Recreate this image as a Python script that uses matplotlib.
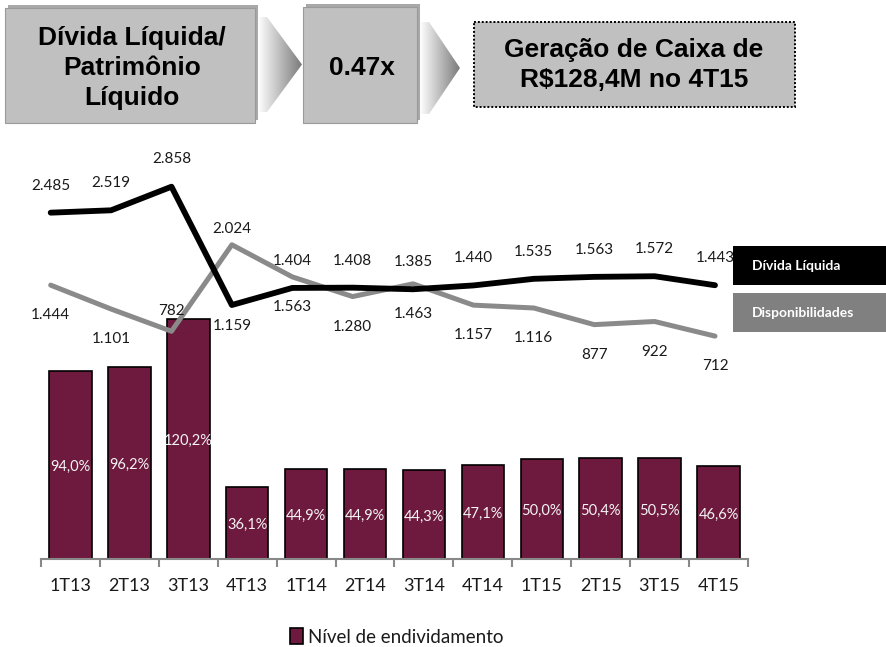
import matplotlib
matplotlib.use("Agg")
import matplotlib.pyplot as plt
import numpy as np
from matplotlib.patches import Rectangle, Polygon, Patch
from matplotlib.colors import LinearSegmentedColormap

# ---------------- data ----------------
categories = ["1T13", "2T13", "3T13", "4T13", "1T14", "2T14", "3T14", "4T14",
              "1T15", "2T15", "3T15", "4T15"]
nivel_endividamento = [94.0, 96.2, 120.2, 36.1, 44.9, 44.9, 44.3, 47.1, 50.0, 50.4, 50.5, 46.6]
divida_liquida = [2485, 2519, 2858, 1159, 1404, 1408, 1385, 1440, 1535, 1563, 1572, 1443]
disponibilidades = [1444, 1101, 782, 2024, 1563, 1280, 1463, 1157, 1116, 877, 922, 712]

header_texts = ["Dívida Líquida/\nPatrimônio\nLíquido", "0.47x", "Geração de Caixa de\nR$128,4M no 4T15"]
bar_legend = "Nível de endividamento"
line_legend = ["Dívida Líquida", "Disponibilidades"]

# label placement (pixel offsets from the point)
div_offsets = [-27, -27, -28, 21, -27, -27, -27, -27, -27, -27, -27, -27]
disp_offsets = [30, 30, -20, -16, 30, 30, 30, 30, 30, 30, 30, 30]

def fmt_thousands(v):
    return f"{v:,}".replace(",", ".")

def fmt_pct(v):
    return f"{v:.1f}%".replace(".", ",")

W, H = 887, 647
plt.rcParams['font.family'] = ['Lato', 'DejaVu Sans']
fig = plt.figure(figsize=(W / 100, H / 100), dpi=100)

# ---------- overlay axes in pixel coordinates (header, side legend) ----------
ov = fig.add_axes([0, 0, 1, 1], zorder=0)
ov.set_xlim(0, W)
ov.set_ylim(H, 0)
ov.axis("off")

BOX_GRAY = "#C0C0C0"
hfont = dict(family=["Liberation Sans", "DejaVu Sans"], fontweight="bold", fontsize=19,
             color="black", ha="center", va="center", linespacing=1.3)

# box 1
ov.add_patch(Rectangle((8, 5), 250, 115, facecolor="#A8A8A8", edgecolor="none", zorder=1))
ov.add_patch(Rectangle((5, 8), 250, 115, facecolor=BOX_GRAY, edgecolor="#9A9A9A", lw=0.8, zorder=2))
ov.text(132, 68, header_texts[0], zorder=3, **hfont)
# box 2
ov.add_patch(Rectangle((306, 4), 114, 116, facecolor="#A8A8A8", edgecolor="none", zorder=1))
ov.add_patch(Rectangle((303, 7), 114, 116, facecolor=BOX_GRAY, edgecolor="#9A9A9A", lw=0.8, zorder=2))
ov.text(362, 68, header_texts[1], zorder=3, **hfont)
# box 3 (dotted)
ov.add_patch(Rectangle((474, 22), 321, 85, facecolor=BOX_GRAY, edgecolor="black",
                       lw=1.4, linestyle=(0, (1, 1)), zorder=2))
ov.text(634, 65, header_texts[2], zorder=3, **hfont)

# chevrons with gradient
cmap = LinearSegmentedColormap.from_list("chev", ["#FFFFFF", "#7A7A7A"])
grad = np.linspace(0, 1, 256).reshape(1, -1)
for (x0, x1, tip, ytop, ybot) in [(258, 267, 302, 17, 112), (420, 429, 460, 22, 114)]:
    ymid = (ytop + ybot) / 2
    poly = Polygon([(x0, ytop), (x1, ytop), (tip, ymid), (x1, ybot), (x0, ybot)],
                   closed=True, facecolor="none", edgecolor="none", transform=ov.transData)
    ov.add_patch(poly)
    im = ov.imshow(grad, cmap=cmap, extent=(x0, tip, ybot, ytop), aspect="auto",
                   interpolation="bilinear", zorder=1)
    im.set_clip_path(poly)
ov.set_xlim(0, W)
ov.set_ylim(H, 0)

# side legend boxes
ov.add_patch(Rectangle((733, 246), 154, 39, facecolor="black", edgecolor="none", zorder=2))
ov.text(752, 266, line_legend[0], color="white", fontweight="bold", fontsize=10,
        ha="left", va="center", zorder=3)
ov.add_patch(Rectangle((733, 293), 154, 39, facecolor="#808080", edgecolor="none", zorder=2))
ov.text(752, 313, line_legend[1], color="white", fontweight="bold", fontsize=10,
        ha="left", va="center", zorder=3)

# ---------------- bar axes ----------------
ax_left, ax_right = 41, 748
ax_top, ax_bottom = 150, 559
rect = [ax_left / W, 1 - ax_bottom / H, (ax_right - ax_left) / W, (ax_bottom - ax_top) / H]
ax = fig.add_axes(rect, zorder=1)
ax.patch.set_alpha(0)
x = np.arange(len(categories))
BAR_COLOR = "#6D1A3E"
bars = ax.bar(x, nivel_endividamento, width=0.72, color=BAR_COLOR, edgecolor="black",
              linewidth=1.2, zorder=2)
ax.set_xlim(-0.5, len(categories) - 0.5)
ax.set_ylim(0, (ax_bottom - ax_top) / 2.0)
for xi, v in zip(x, nivel_endividamento):
    ax.annotate(fmt_pct(v), (xi, v / 2), xytext=(0, -2), textcoords="offset pixels",
                ha="center", va="center", color="#F4F4F4", fontsize=10.5, zorder=3)

for s in ["left", "right", "top"]:
    ax.spines[s].set_visible(False)
ax.spines["bottom"].set_color("#888888")
ax.spines["bottom"].set_linewidth(1.5)
ax.set_yticks([])
ax.set_xticks(x)
ax.set_xticklabels(categories, fontsize=13, color="#1A1A1A")
ax.tick_params(axis="x", which="major", length=0, pad=14)
ax.set_xticks(np.arange(-0.5, len(categories) + 0.5, 1.0), minor=True)
ax.tick_params(axis="x", which="minor", length=6, width=1.5, color="#888888", direction="out")

leg = ax.legend(handles=[Patch(facecolor=BAR_COLOR, edgecolor="black", linewidth=1.2)],
                labels=[bar_legend], loc="center", frameon=False, fontsize=13.5,
                handlelength=0.65, handleheight=0.9, handletextpad=0.3,
                bbox_to_anchor=(397 / W, 1 - 637 / H), bbox_transform=fig.transFigure)
for t in leg.get_texts():
    t.set_color("#1A1A1A")

# ---------------- line axes ----------------
lx = fig.add_axes(rect, zorder=2)
lx.patch.set_alpha(0)
lx.axis("off")
px_per_unit_x = (715 - 50.7) / 11
lx.set_xlim(-(50.7 - ax_left) / px_per_unit_x, 11 + (ax_right - 715) / px_per_unit_x)
px_per_val = 0.06963
zero_px = 385.7
lx.set_ylim(-(ax_bottom - zero_px) / px_per_val, (zero_px - ax_top) / px_per_val)
lx.plot(x, disponibilidades, color="#8A8A8A", lw=3.6, solid_capstyle="round", zorder=2)
lx.plot(x, divida_liquida, color="black", lw=4.2, solid_capstyle="round", zorder=3)

for xi, v, off in zip(x, divida_liquida, div_offsets):
    lx.annotate(fmt_thousands(v), (xi, v), xytext=(0, -off), textcoords="offset pixels",
                ha="center", va="center", fontsize=11, color="#1A1A1A")
for xi, v, off in zip(x, disponibilidades, disp_offsets):
    lx.annotate(fmt_thousands(v), (xi, v), xytext=(0, -off), textcoords="offset pixels",
                ha="center", va="center", fontsize=11, color="#1A1A1A")

fig.savefig("out.png", dpi=100)
